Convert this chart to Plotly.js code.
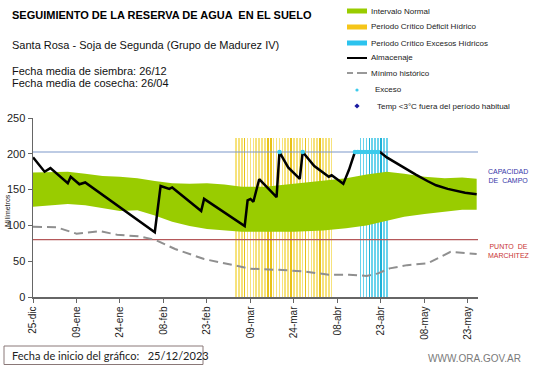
<!DOCTYPE html>
<html>
<head>
<meta charset="utf-8">
<script src="https://cdn.plot.ly/plotly-3.0.1.min.js"></script>
<style>html,body{margin:0;padding:0;background:#fff;}#chart{width:541px;height:368px;}</style>
</head>
<body>
<div id="chart"></div>
<script>
// ---------------- DATA ----------------
const tickDates = ['2023-12-25','2024-01-09','2024-01-24','2024-02-08','2024-02-23','2024-03-09','2024-03-24','2024-04-08','2024-04-23','2024-05-08','2024-05-23'];
const tickLabels = ['25-dic','09-ene','24-ene','08-feb','23-feb','09-mar','24-mar','08-abr','23-abr','08-may','23-may'];

const bandDates = ['2023-12-25','2023-12-31','2024-01-06','2024-01-12','2024-01-18','2024-01-24','2024-01-30','2024-02-05','2024-02-11','2024-02-17','2024-02-23','2024-02-29','2024-03-06','2024-03-14','2024-03-24','2024-04-03','2024-04-11','2024-04-18','2024-04-25','2024-05-01','2024-05-08','2024-05-15','2024-05-21','2024-05-26'];
const bandUpper = [174,175,175,172,169,168,166,162,159,158,159,157,154,154,158,162,166,171,175,172,168,166,167,165];
const bandLower = [126,128,130,128,124,120,121,114,105,99,95,93,91,91,91,93,96,100,106,112,116,119,122,122];

const almDates = ['2023-12-25','2023-12-29','2023-12-31','2024-01-06','2024-01-07','2024-01-10','2024-01-12','2024-01-20','2024-01-28','2024-02-05','2024-02-07','2024-02-09','2024-02-10','2024-02-11','2024-02-21','2024-02-22','2024-03-07','2024-03-08','2024-03-09','2024-03-10','2024-03-12','2024-03-18','2024-03-19','2024-03-22','2024-03-26','2024-03-27','2024-03-31','2024-04-05','2024-04-06','2024-04-10','2024-04-12','2024-04-14','2024-04-22 16:00','2024-04-25','2024-04-28','2024-05-01','2024-05-05','2024-05-09','2024-05-12','2024-05-16','2024-05-19','2024-05-22','2024-05-26'];
const almValues = [195,175,180,159,168,157.5,160,137,114,90.5,155,153,151,153,120,137,99,135,137,133,164.5,139.5,202.5,181,165,202.5,183,168,170,158,178,202.5,202.5,195,187.5,180,171,162,156,151,148,145.5,143.6];

const minDates = ['2023-12-25','2024-01-02','2024-01-09','2024-01-17','2024-01-23','2024-01-31','2024-02-05','2024-02-12','2024-02-22','2024-03-03','2024-03-09','2024-03-20','2024-03-28','2024-04-05','2024-04-12','2024-04-18','2024-04-22','2024-04-26','2024-05-02','2024-05-09','2024-05-17','2024-05-22','2024-05-26'];
const minValues = [98,97.5,88.5,92,87,84.5,80,67,53,44,39.5,37.7,35.5,31,31,29.5,33,40,44.5,47,63,61.5,60];

const deficitDates = ['2024-03-04','2024-03-05','2024-03-06','2024-03-07','2024-03-08','2024-03-09','2024-03-10','2024-03-11','2024-03-12','2024-03-13','2024-03-14','2024-03-15','2024-03-16','2024-03-17','2024-03-18','2024-03-19','2024-03-20','2024-03-21','2024-03-22','2024-03-23','2024-03-24','2024-03-25','2024-03-26','2024-03-27','2024-03-28','2024-03-29','2024-03-30','2024-03-31','2024-04-01','2024-04-02','2024-04-03','2024-04-04','2024-04-05','2024-04-06'];
const excesoPerDates = ['2024-04-16','2024-04-17','2024-04-18','2024-04-19','2024-04-20','2024-04-21','2024-04-22','2024-04-23','2024-04-24','2024-04-25'];
const criticalTop = 222;

const excesoDates = ['2024-03-19','2024-03-27','2024-04-14','2024-04-15','2024-04-16','2024-04-17','2024-04-18','2024-04-19','2024-04-20','2024-04-21','2024-04-22'];
const excesoValues = [202.5,202.5,202.5,202.5,202.5,202.5,202.5,202.5,202.5,202.5,202.5];

const capacidadCampo = 202.5;
const puntoMarchitez = 80;
const xStart = '2023-12-25', xEnd = '2024-05-26 11:00';

// ---------------- STYLE ----------------
const FONT = 'Liberation Sans, Arial, sans-serif';
const GREEN = '#99cc00';
const darkYellowIdx = [3, 11, 12, 19, 24, 29];
const deficitColors = deficitDates.map((d,i)=> darkYellowIdx.includes(i) ? '#e8c21a' : '#f6e27c');
const darkCyanIdx = [3, 7];
const excesoPerColors = excesoPerDates.map((d,i)=> darkCyanIdx.includes(i) ? '#1fb2d8' : '#6ad3ec');
const DAY = 86400000;

const traces = [
  {x: bandDates, y: bandLower, type:'scatter', mode:'lines', line:{width:0, color:GREEN}, hoverinfo:'skip'},
  {x: bandDates, y: bandUpper, type:'scatter', mode:'lines', line:{width:0, color:GREEN}, fill:'tonexty', fillcolor:GREEN, hoverinfo:'skip'},
  {x: deficitDates, y: deficitDates.map(()=>criticalTop), type:'bar', width: 0.55*DAY, marker:{color: deficitColors, line:{width:0}}},
  {x: excesoPerDates, y: excesoPerDates.map(()=>criticalTop), type:'bar', width: 0.55*DAY, marker:{color: excesoPerColors, line:{width:0}}},
  {x: [xStart, xEnd], y: [capacidadCampo, capacidadCampo], type:'scatter', mode:'lines', line:{color:'#7d97c9', width:1.2}},
  {x: [xStart, xEnd], y: [puntoMarchitez, puntoMarchitez], type:'scatter', mode:'lines', line:{color:'#b5585a', width:1.2}},
  {x: minDates, y: minValues, type:'scatter', mode:'lines', line:{color:'#8f8f8f', width:2, dash:'9px,5px'}},
  {x: almDates, y: almValues, type:'scatter', mode:'lines', line:{color:'#000', width:2.5}},
  {x: excesoDates, y: excesoValues, type:'scatter', mode:'markers', marker:{color:'#3ccbec', size:4.5, line:{width:0}}}
];

// pixel -> paper helpers (plot area: x 33..478, y 118..297)
const L=33, R=478, T=118, B=297;
const px = x => (x - L)/(R - L);
const py = y => (B - y)/(B - T);

function txt(text, x, y, opts) {
  return Object.assign({text, x: px(x), y: py(y), xref:'paper', yref:'paper', showarrow:false,
    xanchor:'left', yanchor:'middle', font:{family:FONT, size:11, color:'#111'}}, opts||{});
}

const annotations = [
  txt('<b>SEGUIMIENTO DE LA RESERVA DE AGUA  EN EL SUELO</b>', 10, 15, {font:{family:FONT, size:11, color:'#000'}}),
  txt('Santa Rosa - Soja de Segunda (Grupo de Madurez IV)', 10, 45),
  txt('Fecha media de siembra: 26/12', 10, 71),
  txt('Fecha media de cosecha: 26/04', 10, 83),
  // legend texts
  txt('Intervalo Normal', 369, 11, {font:{family:FONT, size:8, color:'#222'}}),
  txt('Periodo Crítico Déficit Hídrico', 369, 27, {font:{family:FONT, size:8, color:'#222'}}),
  txt('Periodo Crítico Excesos Hídricos', 369, 43, {font:{family:FONT, size:8, color:'#222'}}),
  txt('Almacenaje', 369, 58, {font:{family:FONT, size:8, color:'#222'}}),
  txt('Mínimo histórico', 369, 73, {font:{family:FONT, size:8, color:'#222'}}),
  txt('Exceso', 373, 90, {font:{family:FONT, size:8, color:'#222'}}),
  txt('Temp <3°C fuera del período habitual', 375, 106, {font:{family:FONT, size:8, color:'#222'}}),
  // right labels
  txt('CAPACIDAD<br>DE  CAMPO', 486, 175.5, {font:{family:FONT, size:7, color:'#3535a8'}}),
  txt('PUNTO  DE<br>MARCHITEZ', 486, 250.5, {font:{family:FONT, size:7, color:'#c83434'}}),
  // y title
  txt('Milímetros', 7, 211, {textangle:-90, xanchor:'center', font:{family:FONT, size:7, color:'#222'}}),
  // footer
  txt('Fecha de inicio del gráfico:   25/12/2023', 10, 355, {font:{family:'Lato, '+FONT, size:11, color:'#222'}}),
  txt('WWW.ORA.GOV.AR', 426, 358, {font:{family:FONT, size:10, color:'#7a7a7a'}})
];

function rect(x0,y0,x1,y1,fill,line) {
  return {type:'rect', xref:'paper', yref:'paper', x0:px(x0), x1:px(x1), y0:py(y0), y1:py(y1),
    fillcolor:fill, line: line || {width:0}};
}
function hline(x0,x1,y,color,w) {
  return {type:'line', xref:'paper', yref:'paper', x0:px(x0), x1:px(x1), y0:py(y), y1:py(y), line:{color, width:w}};
}
const dx = 357, dy = 106, ds = 2.6;
const shapes = [
  rect(347, 8.5, 367, 13.5, GREEN),
  rect(347, 24.5, 367, 29.5, '#f5c518'),
  rect(347, 40.5, 367, 45.5, '#2cc3ee'),
  hline(347, 367, 58, '#000', 2),
  hline(347, 353, 73, '#999', 2),
  hline(357, 367, 73, '#999', 2),
  {type:'circle', xref:'paper', yref:'paper', x0:px(dx-1.6), x1:px(dx+1.6), y0:py(90-1.6), y1:py(90+1.6), fillcolor:'#3ccbec', line:{width:0}},
  {type:'path', xref:'paper', yref:'paper', path:`M ${px(dx)},${py(dy-ds)} L ${px(dx+ds)},${py(dy)} L ${px(dx)},${py(dy+ds)} L ${px(dx-ds)},${py(dy)} Z`, fillcolor:'#1a1aa0', line:{width:0}},
  rect(4, 346, 203, 364.5, 'rgba(0,0,0,0)', {color:'#8a7878', width:1})
];

const layout = {
  width:541, height:368,
  margin:{l:L, r:541-R, t:T, b:368-B},
  paper_bgcolor:'#fff', plot_bgcolor:'#fff',
  showlegend:false, barmode:'overlay', bargap:0,
  font:{family:FONT, size:11, color:'#222'},
  xaxis:{type:'date', range:[xStart, xEnd], tickmode:'array', tickvals:tickDates, ticktext:tickLabels,
    tickangle:-90, ticks:'outside', ticklen:4, tickcolor:'#666', showline:true, linecolor:'#666', linewidth:1.5,
    showgrid:false, zeroline:false, tickfont:{family:FONT, size:10, color:'#222'}, fixedrange:true},
  yaxis:{range:[0,250], tickmode:'array', tickvals:[0,50,100,150,200,250], ticks:'outside', ticklen:4, tickcolor:'#666',
    showline:true, linecolor:'#666', linewidth:1.5, showgrid:false, zeroline:false,
    tickfont:{family:FONT, size:11, color:'#222'}, fixedrange:true},
  annotations, shapes
};

Plotly.newPlot('chart', traces, layout, {displayModeBar:false, staticPlot:true});
</script>
</body>
</html>
